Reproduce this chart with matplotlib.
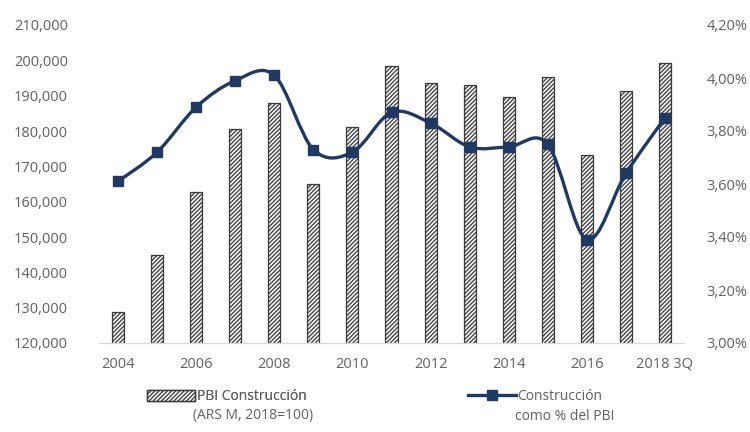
import matplotlib
matplotlib.use("Agg")
import matplotlib.pyplot as plt
from matplotlib.path import Path
from matplotlib.patches import PathPatch, Patch
from matplotlib.lines import Line2D
from matplotlib.ticker import FuncFormatter

plt.rcParams['font.family'] = ['Open Sans', 'DejaVu Sans']
plt.rcParams['hatch.color'] = '#404040'
plt.rcParams['hatch.linewidth'] = 0.9

# Data
years = [2004, 2005, 2006, 2007, 2008, 2009, 2010, 2011, 2012, 2013,
         2014, 2015, 2016, 2017, 2018]
pbi_construccion = [128900, 145000, 162800, 180500, 188000, 165000, 181000, 198400,
                    193500, 193000, 189500, 195200, 173200, 191400, 199300]
pct_pbi = [3.61, 3.72, 3.89, 3.99, 4.01, 3.73, 3.72, 3.87, 3.83, 3.74,
           3.74, 3.75, 3.39, 3.64, 3.85]
tick_labels = ['2004', '', '2006', '', '2008', '', '2010', '', '2012', '',
               '2014', '', '2016', '', '2018 3Q']

grey = '#606060'
navy = '#1f3864'

fig = plt.figure(figsize=(7.5, 4.32), dpi=100)
ax = fig.add_axes([98.5 / 750, 1 - 343 / 432, 586 / 750, 318 / 432])
ax2 = ax.twinx()

x = list(range(len(years)))
ax.bar(x, pbi_construccion, width=0.31, bottom=0, color='#f4f4f4',
       edgecolor='#3a3a3a', linewidth=0.9, hatch='////////', zorder=2)
ax.set_ylim(120000, 210000)
ax.set_xlim(-0.5, len(years) - 0.5)
ax.set_yticks(range(120000, 210001, 10000))
ax.yaxis.set_major_formatter(FuncFormatter(lambda v, p: f"{int(v):,}"))
ax.set_xticks(x)
ax.set_xticklabels(tick_labels)

# smoothed line (Catmull-Rom style, like Excel's smoothed lines)
verts = [(x[0], pct_pbi[0])]
codes = [Path.MOVETO]
n = len(x)
for i in range(n - 1):
    p0 = (x[max(i - 1, 0)], pct_pbi[max(i - 1, 0)])
    p1 = (x[i], pct_pbi[i])
    p2 = (x[i + 1], pct_pbi[i + 1])
    p3 = (x[min(i + 2, n - 1)], pct_pbi[min(i + 2, n - 1)])
    c1 = (p1[0] + (p2[0] - p0[0]) / 6, p1[1] + (p2[1] - p0[1]) / 6)
    c2 = (p2[0] - (p3[0] - p1[0]) / 6, p2[1] - (p3[1] - p1[1]) / 6)
    verts += [c1, c2, p2]
    codes += [Path.CURVE4] * 3
ax2.add_patch(PathPatch(Path(verts, codes), facecolor='none', edgecolor=navy,
                        linewidth=2.4, zorder=3))
ax2.plot(x, pct_pbi, linestyle='none', marker='s', markersize=6.5,
         color=navy, zorder=4)
ax2.set_ylim(3.0, 4.2)
ax2.set_yticks([3.0, 3.2, 3.4, 3.6, 3.8, 4.0, 4.2])
ax2.yaxis.set_major_formatter(FuncFormatter(lambda v, p: f"{v:.2f}".replace('.', ',') + '%'))

for a in (ax, ax2):
    for s in a.spines.values():
        s.set_visible(False)
    a.tick_params(length=0, colors=grey, labelsize=10.5)
ax.spines['bottom'].set_visible(True)
ax.spines['bottom'].set_color('#d9d9d9')
ax.tick_params(axis='y', pad=22)
ax.tick_params(axis='x', pad=10)
ax2.tick_params(axis='y', pad=16)

# legends: handle aligned with first text line, second line as separate text
leg1 = fig.legend(handles=[Patch(facecolor='#f4f4f4', edgecolor='#3a3a3a', hatch='////////')],
                  labels=['PBI Construcción'],
                  loc='upper left', bbox_to_anchor=(139 / 750, 1 - 381 / 432),
                  frameon=False, fontsize=10, labelcolor=grey,
                  handlelength=3.4, handleheight=0.8, handletextpad=0.2,
                  borderaxespad=0.2)
fig.text(193 / 750, 1 - 416 / 432, '(ARS M, 2018=100)', fontsize=10, color=grey,
         va='center', ha='left')
fig.legend(handles=[Line2D([], [], color=navy, linewidth=2.4, marker='s', markersize=6.5)],
           labels=['Construcción'],
           loc='upper left', bbox_to_anchor=(460 / 750, 1 - 381 / 432),
           frameon=False, fontsize=10, labelcolor=grey,
           handlelength=3.4, handletextpad=0.1, borderaxespad=0.2)
fig.add_artist(leg1)
fig.text(515 / 750, 1 - 416 / 432, 'como % del PBI', fontsize=10, color=grey,
         va='center', ha='left')

fig.savefig('out.png', dpi=100)
